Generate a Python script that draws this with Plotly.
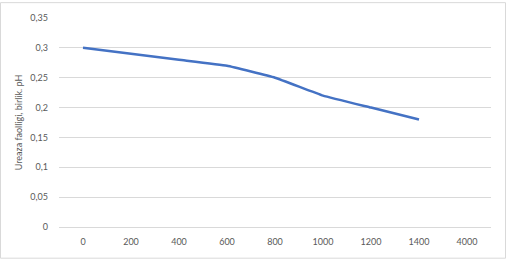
import plotly.graph_objects as go

categories = ["0", "200", "400", "600", "800", "1000", "1200", "1400", "4000"]
urease = [0.30, 0.29, 0.28, 0.27, 0.25, 0.22, 0.20, 0.18, None]
ytick_vals = [0, 0.05, 0.10, 0.15, 0.20, 0.25, 0.30, 0.35]
ytick_text = ["0", "0,05", "0,1", "0,15", "0,2", "0,25", "0,3", "0,35"]

W, H = 507, 260
L, R, T, B = 59, 16, 16, 33
pw, ph = W - L - R, H - T - B

fig = go.Figure()
fig.add_trace(go.Scatter(
    x=categories, y=urease, mode="lines",
    line=dict(color="#4472C4", width=2.5, shape="spline", smoothing=0.3),
    connectgaps=False, hoverinfo="skip", showlegend=False,
))

font = dict(family="Lato, Open Sans, sans-serif", size=9, color="#595959")
fig.update_layout(
    width=W, height=H,
    margin=dict(l=L, r=R, t=T, b=B),
    paper_bgcolor="white", plot_bgcolor="white",
    separators=", ",
    font=font,
    xaxis=dict(type="category", categoryorder="array", categoryarray=categories,
               range=[-0.5, 8.5], showgrid=False, showline=True, linecolor="#d9d9d9",
               linewidth=1, ticks="", tickfont=font, ticklabelstandoff=6, zeroline=False),
    yaxis=dict(range=[0, 0.35], tickvals=ytick_vals, ticktext=ytick_text,
               showgrid=True, gridcolor="#d9d9d9", gridwidth=1, zeroline=False,
               showline=False, ticks="", tickfont=font, ticklabelstandoff=10,
               title=dict(text="Ureaza faolligi, birlik. pH", font=font, standoff=6)),
    shapes=[dict(type="rect", xref="paper", yref="paper",
                 x0=(-L + 0.5) / pw, x1=1 + (R - 1.5) / pw,
                 y0=(-B + 1.5) / ph, y1=1 + (T - 0.5) / ph,
                 line=dict(color="#d9d9d9", width=1), fillcolor="rgba(0,0,0,0)", layer="below")],
)
fig.write_html("out.html")
